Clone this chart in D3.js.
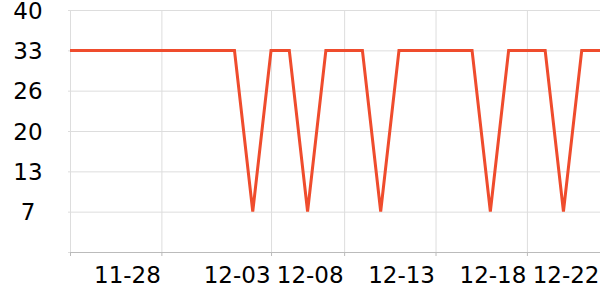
<!DOCTYPE html>
<html>
<head>
<meta charset="utf-8">
<script src="https://cdn.jsdelivr.net/npm/d3@7"></script>
<style>
  body { margin: 0; background: #fff; }
  text { font-family: "DejaVu Sans", sans-serif; }
</style>
</head>
<body>
<div id="chart"></div>
<script>
// one value per day, index 0..29
const values = [
    33.3, 33.3, 33.3, 33.3, 33.3, 33.3, 33.3, 33.3, 33.3, 33.3,
    6.7, 33.3, 33.3, 6.7, 33.3, 33.3, 33.3, 6.7, 33.3, 33.3,
    33.3, 33.3, 33.3, 6.7, 33.3, 33.3, 33.3, 6.7, 33.3, 33.3
];

// x ticks (index of point) and their labels
const xTickPos = [0, 5, 11, 15, 20, 25, 29];
const xTickLabels = ["", "11-28", "12-03", "12-08", "12-13", "12-18", "12-22"];

// y ticks
const yTickValues = [0, 6.67, 13.33, 20, 26.67, 33.33, 40];
const yTickLabels = ["", "7", "13", "20", "26", "33", "40"];

const w = 600, h = 300;
const margin = { top: 10, right: 0, bottom: 48, left: 70 };
const width = w - margin.left - margin.right;
const height = h - margin.top - margin.bottom;

const svg = d3.select("#chart")
    .append("svg")
    .attr("width", w)
    .attr("height", h)
    .append("g")
    .attr("transform", `translate(${margin.left}, ${margin.top})`);

const xScale = d3.scaleLinear().domain([0, values.length - 1]).range([0, width]);
const yScale = d3.scaleLinear().domain([0, 40]).range([height, 0]);

// gridlines
svg.append("g")
    .attr("color", "#dddddd")
    .call(d3.axisLeft(yScale).tickValues(yTickValues).tickSize(-width - 2).tickFormat(""))
    .attr("transform", "translate(-2,0)")
    .call(g => g.select(".domain").remove());

svg.append("g")
    .attr("color", "#dddddd")
    .call(d3.axisBottom(xScale).tickValues(xTickPos).tickSize(height).tickFormat(""))
    .call(g => g.select(".domain").remove());

// y labels
svg.append("g")
    .selectAll("text")
    .data(yTickValues)
    .enter()
    .append("text")
    .attr("x", 28 - margin.left)
    .attr("y", d => yScale(d))
    .attr("dy", "0.38em")
    .attr("text-anchor", "middle")
    .attr("font-size", 23)
    .attr("fill", "#000")
    .text((d, i) => yTickLabels[i]);

// x axis
const xAxis = svg.append("g")
    .attr("transform", `translate(0, ${height})`)
    .attr("color", "#bbbbbb")
    .call(d3.axisBottom(xScale).tickValues(xTickPos).tickSize(4).tickSizeOuter(0)
        .tickFormat((d, i) => xTickLabels[i]));

xAxis.selectAll("text")
    .attr("fill", "#000")
    .attr("font-size", 23)
    .attr("text-anchor", "end")
    .attr("x", -1)
    .attr("y", 0)
    .attr("dy", "1.33em");

// line
const lineGenerator = d3.line()
    .x((d, i) => xScale(i))
    .y(d => yScale(d));

svg.append("path")
    .datum(values)
    .attr("fill", "none")
    .attr("stroke", "#ef4c2d")
    .attr("stroke-width", 3)
    .attr("d", lineGenerator);
</script>
</body>
</html>
